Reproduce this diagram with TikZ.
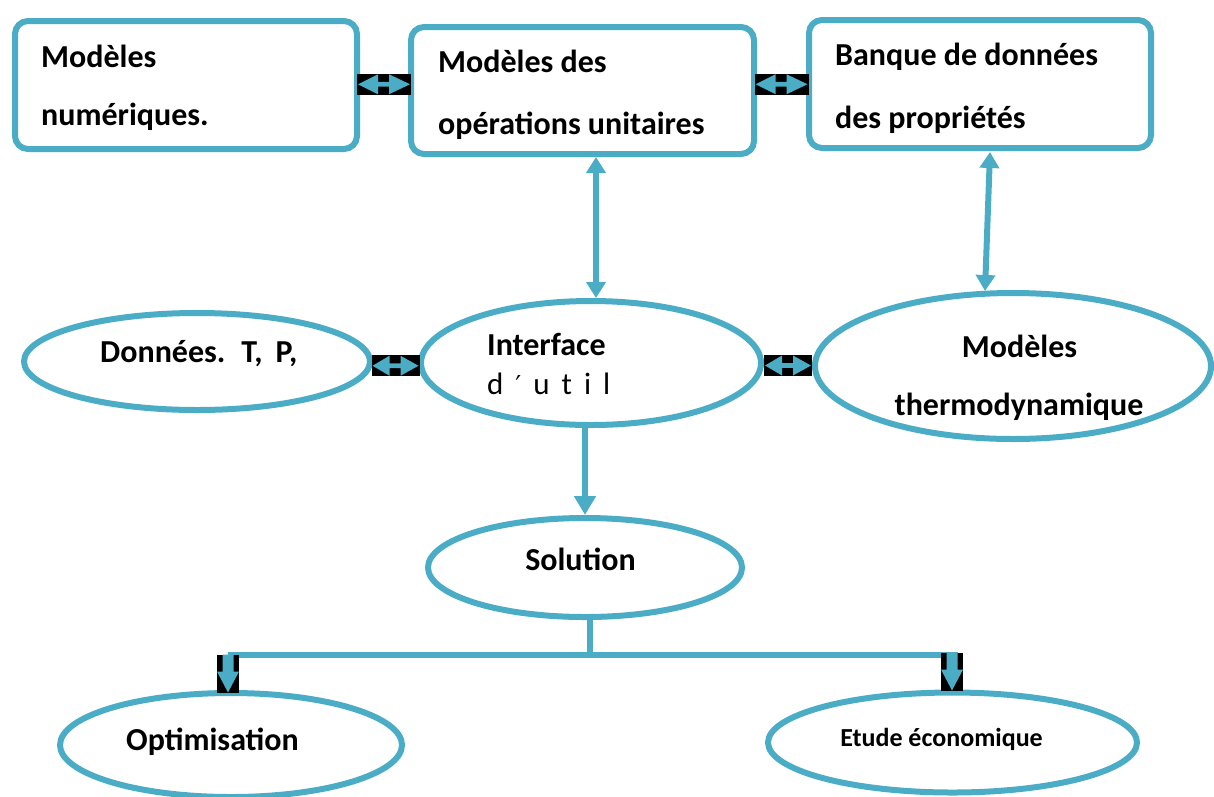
\documentclass[tikz,border=0pt]{standalone}
\usepackage{fontspec}
\setmainfont{Carlito}
\newfontfamily\symfont{DejaVu Sans}
\usetikzlibrary{shapes.geometric,arrows.meta,calc}
\definecolor{accent}{RGB}{75,172,198}
\frenchspacing

\tikzset{
  % black plate with a two-way block arrow, #1 = half width
  pics/twoway/.style={code={
    \fill[black] (-#1,-10.5) rectangle (#1,10.5);
    \fill[accent] (-#1+1,0) -- (-6,-10) -- (-6,-2.4) -- (5,-2.4) -- (5,-10)
      -- (#1-1,0) -- (5,10) -- (5,2.4) -- (-6,2.4) -- (-6,10) -- cycle;
  }},
  % black plate with a downward block arrow
  pics/downbar/.style={code={
    \fill[black] (-11,-19) rectangle (11,19);
    \fill[accent] (-5.5,-19) -- (5.5,-19) -- (5.5,-2) -- (11,-2) -- (0,19)
      -- (-11,-2) -- (-5.5,-2) -- cycle;
  }},
}

\begin{document}
\begin{tikzpicture}[x=1pt,y=-1pt,
  frame/.style={draw=accent,line width=6pt,rounded corners=13pt,
    minimum width=342pt,minimum height=128pt,inner sep=0pt},
  oval/.style={draw=accent,line width=6pt,ellipse,inner sep=0pt},
  words/.style={font=\bfseries\fontsize{32}{38}\selectfont,anchor=base,inner sep=0pt},
  lefty/.style={words,anchor=base west},
  link/.style={draw=accent,line width=6pt},
  both/.style={link,{Triangle[width=19pt,length=16pt]}-{Triangle[width=19pt,length=16pt]}},
  down/.style={link,-{Triangle[width=21pt,length=19pt]}},
]
\useasboundingbox (0,0) rectangle (1214,796);

% top row of boxes
\node[frame] (num) at (186,85) {};
\node[frame,minimum width=343pt,minimum height=127pt] (ops) at (582.5,90.5) {};
\node[frame] (bank) at (980,84) {};

% texts of the boxes
\node[lefty] (tnum1) at (41,67) {Modèles};
\node[lefty] (tnum2) at (41,125) {numériques.};
\node[lefty] (tops1) at (438,72) {Modèles des};
\node[lefty] (tops2) at (438,134) {opérations unitaires};
\node[lefty] (tbank1) at (835,65) {Banque de données};
\node[lefty] (tbank2) at (835,128) {des propriétés};

% middle row of ellipses
\node[oval,minimum width=346pt,minimum height=97pt] (data) at (197,361.5) {};
\node[oval,minimum width=340pt,minimum height=124pt] (ui) at (591,363) {};
\node[oval,minimum width=396pt,minimum height=146pt] (thermo) at (1013,366) {};

% solution and its two outcomes
\node[oval,minimum width=314pt,minimum height=99pt] (sol) at (585,567.5) {};
\node[oval,minimum width=342pt,minimum height=104pt] (opt) at (231,745) {};
\node[oval,minimum width=369pt,minimum height=100pt] (eco) at (952.5,742.5) {};

% texts of the ellipses
\node[lefty] (tdata) at (100,362) {Données.\hspace{16pt}T,\hspace{13pt}P,};
\node[lefty] (tui) at (487,355) {Interface};
\node[anchor=base west,inner sep=0pt,font=\fontsize{31}{37}\selectfont] (tui2) at (487,394)
  {d\hspace{12pt}{\symfont\fontsize{26}{30}\selectfont ′}\hspace{12pt}u\hspace{12pt}t\hspace{12pt}i\hspace{12pt}l};
\node[words] (tth1) at (1019.5,357) {Modèles};
\node[words] (tth2) at (1019,415) {thermodynamique};
\node[words] (tsol) at (580.5,570) {Solution};
\node[words] (topt) at (212.5,750) {Optimisation};
\node[words,font=\bfseries\fontsize{26}{31}\selectfont] (teco) at (941.5,746) {Etude économique};

% two-way links between neighbours
\pic at ($(num.east)!0.5!(ops.west)+(0,-3.5)$) {twoway=27};
\pic at ($(ops.east)!0.5!(bank.west)+(0,-3)$) {twoway=27};
\pic at ($(data.east)!0.5!(ui.west)+(0,3.5)$) {twoway=24};
\pic at ($(ui.east)!0.5!(thermo.west)+(0,1)$) {twoway=24};

% vertical links
\draw[both] ([xshift=13.5pt]ops.south) -- ([xshift=5pt]ui.north);
\draw[both] ([xshift=10pt,yshift=-1pt]bank.south) -- ([xshift=-28pt,yshift=-1pt]thermo.north);
\draw[down] ([xshift=-6pt]ui.south) -- (sol.north);

% split towards the two outcomes
\coordinate (split) at (590,655);
\coordinate (jl) at (228,655);
\coordinate (jr) at (958,655);
\draw[link] ([xshift=5pt]sol.south) -- (split);
\draw[link] (jl) -- (jr);
\pic at ([xshift=-3pt,yshift=16.5pt]opt.north) {downbar};
\pic at ([xshift=-0.5pt,yshift=18pt]eco.north) {downbar};
\end{tikzpicture}
\end{document}
